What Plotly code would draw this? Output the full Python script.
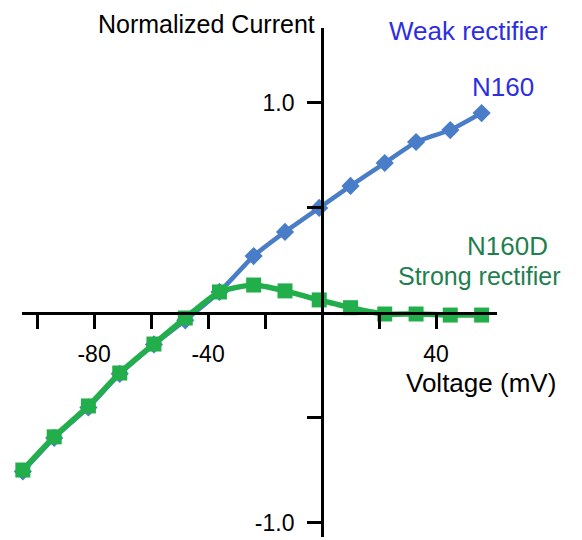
import plotly.graph_objects as go

# Data
voltage = [-105, -94, -82, -71, -59, -48, -36, -24, -13, -1, 10, 22, 33, 45, 56]
n160 = [-0.755, -0.595, -0.45, -0.29, -0.15, -0.035, 0.10, 0.271, 0.386, 0.50, 0.605, 0.714, 0.814, 0.871, 0.952]
n160d = [-0.748, -0.590, -0.443, -0.286, -0.148, -0.024, 0.100, 0.133, 0.105, 0.062, 0.025, -0.005, -0.005, -0.01, -0.01]

x_tickvals = [-100, -80, -60, -40, -20, 20, 40]
x_ticktext = ["", "-80", "", "-40", "", "", "40"]
y_tickvals = [-1.0, -0.5, 0.5, 1.0]
y_ticktext = ["-1.0", "", "", "1.0"]

x_range = [-105.3, 61.4]
y_range = [-1.067, 1.357]

BLUE = "#4A7DC8"
GREEN = "#22AF4B"
BLUE_TXT = "#2E2EE0"
GREEN_TXT = "#1F7F4F"
FONT = "Arial, Liberation Sans, sans-serif"

# page has an 8px body margin, so the figure is drawn 8px in from the window corner
OFF = 8
W, H = 582 - OFF, 540 - OFF
L, R, T, B = 22 - OFF, 497 - OFF, 28 - OFF, 537 - OFF

fig = go.Figure()
fig.add_trace(go.Scatter(
    x=voltage, y=n160, mode="lines+markers", name="N160",
    line=dict(color=BLUE, width=4.5, shape="spline", smoothing=0.4),
    marker=dict(symbol="diamond", size=14, color=BLUE),
    cliponaxis=False,
))
fig.add_trace(go.Scatter(
    x=voltage, y=n160d, mode="lines+markers", name="N160D",
    line=dict(color=GREEN, width=5.5, shape="spline", smoothing=0.6),
    marker=dict(symbol="square", size=15, color=GREEN),
    cliponaxis=False,
))

xpos = (0 - y_range[0]) / (y_range[1] - y_range[0])
ypos = (0 - x_range[0]) / (x_range[1] - x_range[0])

fig.update_layout(
    width=W, height=H,
    margin=dict(l=L, r=W - R, t=T, b=H - B, pad=0),
    paper_bgcolor="white", plot_bgcolor="white",
    showlegend=False,
    font=dict(family=FONT, size=23, color="black"),
    xaxis=dict(
        range=x_range, anchor="free", position=xpos,
        showgrid=False, zeroline=False,
        showline=True, linecolor="black", linewidth=3,
        ticks="outside", ticklen=14, tickwidth=3, tickcolor="black",
        tickvals=x_tickvals, ticktext=x_ticktext,
        tickfont=dict(size=23, color="black"),
        ticklabelstandoff=5,
    ),
    yaxis=dict(
        range=y_range, anchor="free", position=ypos,
        showgrid=False, zeroline=False,
        showline=True, linecolor="black", linewidth=3,
        ticks="outside", ticklen=14, tickwidth=3, tickcolor="black",
        tickvals=y_tickvals, ticktext=y_ticktext,
        tickfont=dict(size=23, color="black"),
        ticklabelstandoff=8,
    ),
)

def ann(text, x, y, color, size=26, xanchor="center"):
    fig.add_annotation(text=text, x=x, y=y, xref="paper", yref="paper",
                       showarrow=False, xanchor=xanchor, yanchor="middle",
                       font=dict(family=FONT, size=size, color=color))

def px(xp):
    return (xp - OFF - L) / (R - L)
def py(yp):
    return (B - (yp - OFF)) / (B - T)

ann("Normalized Current", px(317), py(24), "black", size=25, xanchor="right")
ann("Weak rectifier", px(468), py(31), BLUE_TXT)
ann("N160", px(503), py(87), BLUE_TXT)
ann("N160D", px(508), py(246), GREEN_TXT)
ann("Strong rectifier", px(479), py(276), GREEN_TXT, size=25)
ann("Voltage (mV)", px(481), py(383), "black")

fig.write_html("out.html")
